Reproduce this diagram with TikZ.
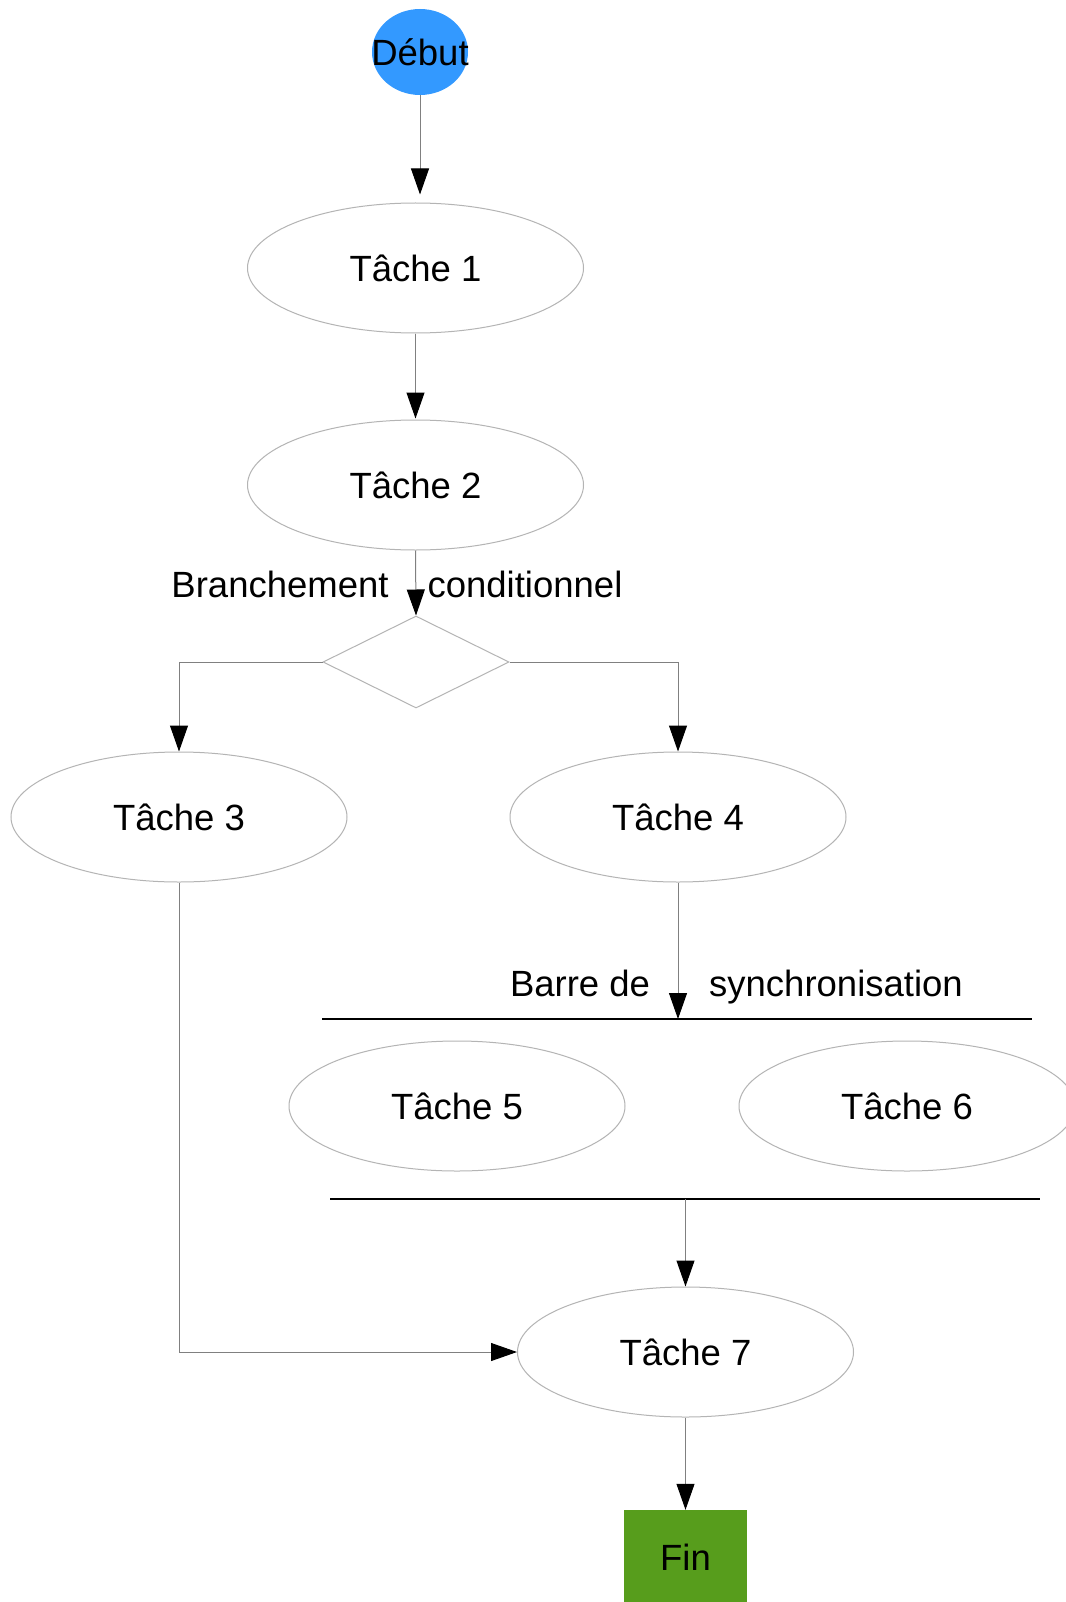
\documentclass[tikz,border=0pt]{standalone}
\usepackage{fontspec}
\setmainfont{Liberation Sans}
\usetikzlibrary{shapes.geometric,arrows.meta}
\definecolor{debutblue}{RGB}{51,153,255}
\definecolor{fingreen}{RGB}{87,157,28}
\definecolor{outl}{RGB}{180,180,180}
\definecolor{connc}{RGB}{128,128,128}
\begin{document}
\begin{tikzpicture}[x=1pt,y=-1pt,
  every node/.style={font=\fontsize{36.5}{44}\selectfont},
  task/.style={ellipse,draw=outl,line width=1pt,minimum width=336pt,minimum height=130pt,inner sep=0pt},
  conn/.style={draw=connc,line width=1pt,-{Triangle[length=26pt,width=18pt,fill=black,color=black]}},
  syncbar/.style={draw=black,line width=2pt},
  lbl/.style={anchor=base,inner sep=0pt}]
\useasboundingbox (0,0) rectangle (1065,1602);
\fill[white] (0,0) rectangle (1065,1602);
% nodes
\node[ellipse,fill=debutblue,minimum width=96pt,minimum height=86pt,inner sep=0pt] (debut) at (420,52) {};
\path (debut.center) node {Début};
\node[task] (t1) at (415.5,268) {Tâche 1};
\node[task] (t2) at (415.5,485) {Tâche 2};
\node[diamond,draw=outl,line width=1pt,minimum width=186pt,minimum height=92pt,inner sep=0pt] (dia) at (416,662) {};
\node[task] (t3) at (179,817) {Tâche 3};
\node[task] (t4) at (678,817) {Tâche 4};
\node[task] (t5) at (457,1106) {Tâche 5};
\node[task] (t6) at (907,1106) {Tâche 6};
\node[task] (t7) at (685.5,1352) {Tâche 7};
\node[rectangle,fill=fingreen,minimum width=123pt,minimum height=94pt,inner sep=0pt] (fin) at (685.5,1557) {Fin};
% labels
\node[lbl] (lb1) at (280,597) {Branchement};
\node[lbl] (lb2) at (525,597) {conditionnel};
\node[lbl] (lb3) at (580,996) {Barre de};
\node[lbl] (lb4) at (836,996) {synchronisation};
% bars
\coordinate (b1l) at (322,1019);
\coordinate (b1r) at (1032,1019);
\coordinate (b2l) at (330,1199);
\coordinate (b2r) at (1040,1199);
\coordinate (b2m) at (685.5,1199);
\draw[syncbar] (b1l) -- (b1r);
\draw[syncbar] (b2l) -- (b2r);
% connectors
\draw[conn,shorten >=8pt] (debut.south) -- (debut.south |- t1.north);
\draw[conn,shorten >=1pt] (t1.south) -- (t2.north);
\draw[conn] (t2.south) -- (dia.north);
\draw[conn] (dia.west) -| (t3.north);
\draw[conn] (dia.east) -| (t4.north);
\draw[conn] (t4.south) -- (t4.south |- b1l);
\draw[conn] (b2m) -- (t7.north);
\draw[conn] (t3.south) |- (t7.west);
\draw[conn] (t7.south) -- (fin.north);
\end{tikzpicture}
\end{document}
